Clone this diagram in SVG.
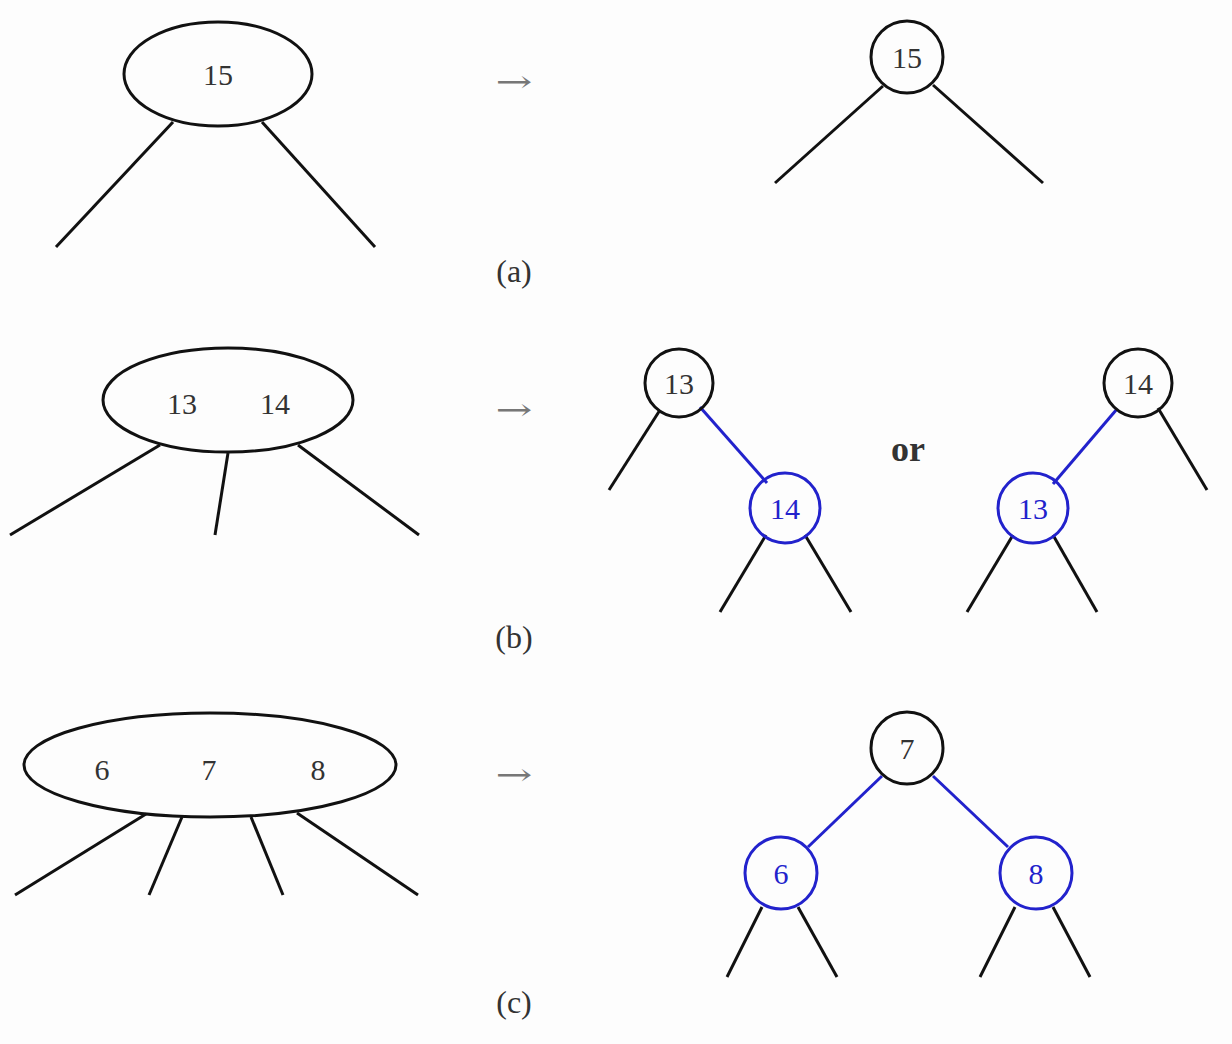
<svg xmlns="http://www.w3.org/2000/svg" width="1232" height="1044" viewBox="0 0 1232 1044">
<style>
.bg{fill:#fdfdfd}
.n{fill:none;stroke:#111;stroke-width:3}
.r{fill:none;stroke:#2222cc;stroke-width:3}
.e{stroke:#111;stroke-width:3;fill:none}
.eb{stroke:#2222cc;stroke-width:3;fill:none}
.t{font-family:"Liberation Serif","DejaVu Serif",serif;font-size:30px;fill:#333;text-anchor:middle}
.tb{font-family:"Liberation Serif","DejaVu Serif",serif;font-size:30px;fill:#2222cc;text-anchor:middle}
.lab{font-family:"Liberation Serif","DejaVu Serif",serif;font-size:32px;fill:#333;text-anchor:middle}
.arr{font-family:"DejaVu Serif",serif;font-size:30px;fill:#777;text-anchor:middle}
.or{font-family:"Liberation Serif","DejaVu Serif",serif;font-size:36px;font-weight:bold;fill:#333;text-anchor:middle}
</style>
<rect class="bg" x="0" y="0" width="1232" height="1044"/>
<g id="connectors">
<line class="e" x1="173" y1="122" x2="56" y2="247"/>
<line class="e" x1="262" y1="122" x2="375" y2="247"/>
<line class="e" x1="883" y1="86" x2="775" y2="183"/>
<line class="e" x1="933" y1="85" x2="1043" y2="183"/>
<line class="e" x1="160" y1="445" x2="10" y2="535"/>
<line class="e" x1="228" y1="453" x2="215" y2="535"/>
<line class="e" x1="298" y1="445" x2="419" y2="535"/>
<line class="e" x1="660" y1="410" x2="609" y2="490"/>
<line class="eb" x1="700" y1="407" x2="767" y2="483"/>
<line class="e" x1="766" y1="535" x2="720" y2="612"/>
<line class="e" x1="805" y1="535" x2="851" y2="612"/>
<line class="eb" x1="1117" y1="409" x2="1053" y2="484"/>
<line class="e" x1="1158" y1="408" x2="1207" y2="490"/>
<line class="e" x1="1013" y1="535" x2="967" y2="612"/>
<line class="e" x1="1053" y1="535" x2="1097" y2="612"/>
<line class="e" x1="146" y1="814" x2="15" y2="895"/>
<line class="e" x1="182" y1="817" x2="149" y2="895"/>
<line class="e" x1="251" y1="817" x2="283" y2="895"/>
<line class="e" x1="297" y1="813" x2="418" y2="895"/>
<line class="eb" x1="882" y1="776" x2="808" y2="847"/>
<line class="eb" x1="933" y1="776" x2="1008" y2="847"/>
<line class="e" x1="762" y1="907" x2="727" y2="977"/>
<line class="e" x1="798" y1="907" x2="837" y2="977"/>
<line class="e" x1="1015" y1="907" x2="980" y2="977"/>
<line class="e" x1="1053" y1="907" x2="1090" y2="977"/>
</g>
<g id="node-a-234">
<ellipse class="n" cx="218" cy="74" rx="94" ry="52"/>
<text class="t" x="218" y="85">15</text>
</g>
<g id="node-a-15">
<circle class="n" cx="907" cy="57" r="36"/>
<text class="t" x="907" y="68">15</text>
</g>
<g id="node-b-234">
<ellipse class="n" cx="228" cy="400" rx="125" ry="52"/>
<text class="t" x="182" y="414">13</text>
<text class="t" x="275" y="414">14</text>
</g>
<g id="node-b-13a">
<circle class="n" cx="679" cy="383" r="34"/>
<text class="t" x="679" y="394">13</text>
</g>
<g id="node-b-14a">
<circle class="r" cx="785" cy="508" r="35"/>
<text class="tb" x="785" y="519">14</text>
</g>
<g id="node-b-14b">
<circle class="n" cx="1138" cy="383" r="34"/>
<text class="t" x="1138" y="394">14</text>
</g>
<g id="node-b-13b">
<circle class="r" cx="1033" cy="508" r="35"/>
<text class="tb" x="1033" y="519">13</text>
</g>
<g id="node-c-234">
<ellipse class="n" cx="210" cy="765" rx="186" ry="52"/>
<text class="t" x="102" y="780">6</text>
<text class="t" x="209" y="780">7</text>
<text class="t" x="318" y="780">8</text>
</g>
<g id="node-c-7">
<circle class="n" cx="907" cy="748" r="36"/>
<text class="t" x="907" y="759">7</text>
</g>
<g id="node-c-6">
<circle class="r" cx="781" cy="873" r="36"/>
<text class="tb" x="781" y="884">6</text>
</g>
<g id="node-c-8">
<circle class="r" cx="1036" cy="873" r="36"/>
<text class="tb" x="1036" y="884">8</text>
</g>
<g id="labels">
<text class="arr" x="514" y="92" textLength="37" lengthAdjust="spacingAndGlyphs">→</text>
<text class="arr" x="514" y="420" textLength="37" lengthAdjust="spacingAndGlyphs">→</text>
<text class="arr" x="514" y="785" textLength="37" lengthAdjust="spacingAndGlyphs">→</text>
<text class="lab" x="514" y="282">(a)</text>
<text class="lab" x="514" y="648">(b)</text>
<text class="lab" x="514" y="1013">(c)</text>
<text class="or" x="908" y="461">or</text>
</g>
</svg>
